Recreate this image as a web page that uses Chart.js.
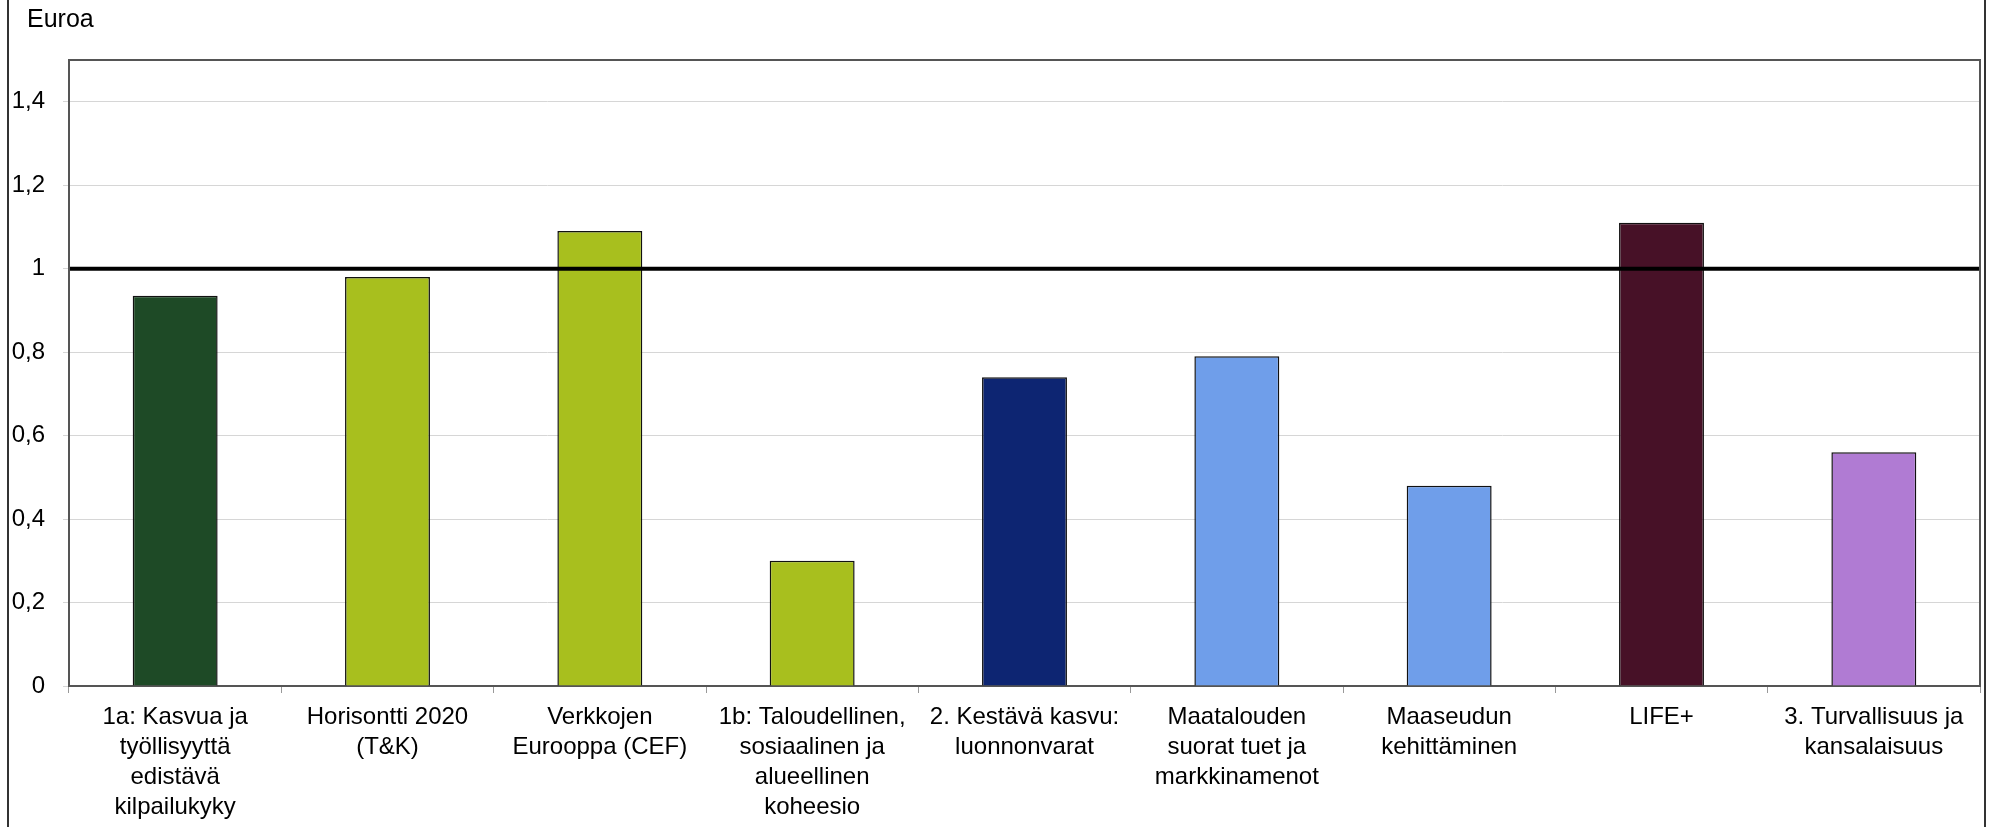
<!DOCTYPE html>
<html>
<head>
<meta charset="utf-8">
<script src="https://cdn.jsdelivr.net/npm/chart.js@4"></script>
<style>
  html, body { margin: 0; padding: 0; background: #fff; }
  #wrap { position: relative; width: 1991px; height: 827px; }
</style>
</head>
<body>
<div id="wrap"><canvas id="barChart"></canvas></div>
<script>
// otsakkeet, arvot (euroa) ja y-akselin asteikko
const categories = [
    ["1a: Kasvua ja", "työllisyyttä", "edistävä", "kilpailukyky"],
    ["Horisontti 2020", "(T&K)"],
    ["Verkkojen", "Eurooppa (CEF)"],
    ["1b: Taloudellinen,", "sosiaalinen ja", "alueellinen", "koheesio"],
    ["2. Kestävä kasvu:", "luonnonvarat"],
    ["Maatalouden", "suorat tuet ja", "markkinamenot"],
    ["Maaseudun", "kehittäminen"],
    ["LIFE+"],
    ["3. Turvallisuus ja", "kansalaisuus"]
];
const values = [0.935, 0.98, 1.09, 0.30, 0.74, 0.79, 0.48, 1.11, 0.56];
const referenceLevel = 1;
const yTicks = [0, 0.2, 0.4, 0.6, 0.8, 1, 1.2, 1.4];
const yMax = 1.5;

const barColors = ["#1e4a26", "#a8bf1e", "#a8bf1e", "#a8bf1e", "#0d2572",
                   "#6f9eea", "#6f9eea", "#471127", "#b07bd3"];

const font = { family: "'Liberation Sans', Arial, sans-serif", size: 24, lineHeight: 1.25 };

// kehys, pohjan reunat ja y-akselin otsikko
const framePlugin = {
    id: "frame",
    afterDraw(chart) {
        const { ctx, chartArea } = chart;
        ctx.save();
        ctx.strokeStyle = "#555";
        ctx.lineWidth = 2;
        ctx.beginPath();
        ctx.moveTo(chartArea.left, chartArea.bottom);
        ctx.lineTo(chartArea.left, chartArea.top);
        ctx.lineTo(chartArea.right, chartArea.top);
        ctx.lineTo(chartArea.right, chartArea.bottom);
        ctx.stroke();
        ctx.strokeStyle = "#333";
        ctx.beginPath();
        ctx.moveTo(8, 0); ctx.lineTo(8, chart.height);
        ctx.moveTo(1985, 0); ctx.lineTo(1985, chart.height);
        ctx.stroke();
        ctx.fillStyle = "#000";
        ctx.font = "25px 'Liberation Sans', Arial, sans-serif";
        ctx.textBaseline = "middle";
        ctx.fillText("Euroa", 27, 20);
        ctx.restore();
    }
};

function drawChart() {
    const ctx = document.getElementById("barChart");
    new Chart(ctx, {
        type: "bar",
        data: {
            labels: categories,
            datasets: [
                {
                    type: "line",
                    xAxisID: "xLine",
                    data: [{ x: 0, y: referenceLevel }, { x: 1, y: referenceLevel }],
                    borderColor: "#000",
                    borderWidth: 4,
                    pointRadius: 0,
                    order: 0
                },
                {
                    type: "bar",
                    xAxisID: "x",
                    data: values,
                    backgroundColor: barColors,
                    borderColor: "#111",
                    borderWidth: 1.5,
                    grouped: false,
                    barPercentage: 0.4,
                    categoryPercentage: 1,
                    order: 1
                }
            ]
        },
        options: {
            responsive: true,
            maintainAspectRatio: false,
            animation: false,
            layout: { padding: { left: 11, right: 11, top: 60, bottom: -4 } },
            plugins: {
                legend: { display: false },
                tooltip: { enabled: false }
            },
            scales: {
                x: {
                    type: "category",
                    grid: { drawOnChartArea: false, drawTicks: true, tickLength: 7, color: "#999" },
                    border: { color: "#555", width: 2 },
                    afterFit(axis) {
                        axis.paddingLeft = 0;
                        axis.paddingRight = 0;
                    },
                    ticks: {
                        color: "#000",
                        font: font,
                        padding: 9,
                        maxRotation: 0,
                        minRotation: 0,
                        autoSkip: false
                    }
                },
                xLine: {
                    type: "linear",
                    display: false,
                    offset: false,
                    grid: { offset: false },
                    min: 0,
                    max: 1
                },
                y: {
                    min: 0,
                    max: yMax,
                    grid: { color: "#d6d6d6", lineWidth: 1, tickLength: 6 },
                    border: { color: "#555", width: 2 },
                    afterBuildTicks(axis) {
                        axis.ticks = yTicks.map(v => ({ value: v }));
                    },
                    afterFit(axis) {
                        axis.width = 58;
                    },
                    ticks: {
                        color: "#000",
                        font: font,
                        padding: 18,
                        callback: v => String(Math.round(v * 10) / 10).replace(".", ",")
                    }
                }
            }
        },
        plugins: [framePlugin]
    });
}

document.addEventListener("DOMContentLoaded", () => {
    drawChart();
});
</script>
</body>
</html>
